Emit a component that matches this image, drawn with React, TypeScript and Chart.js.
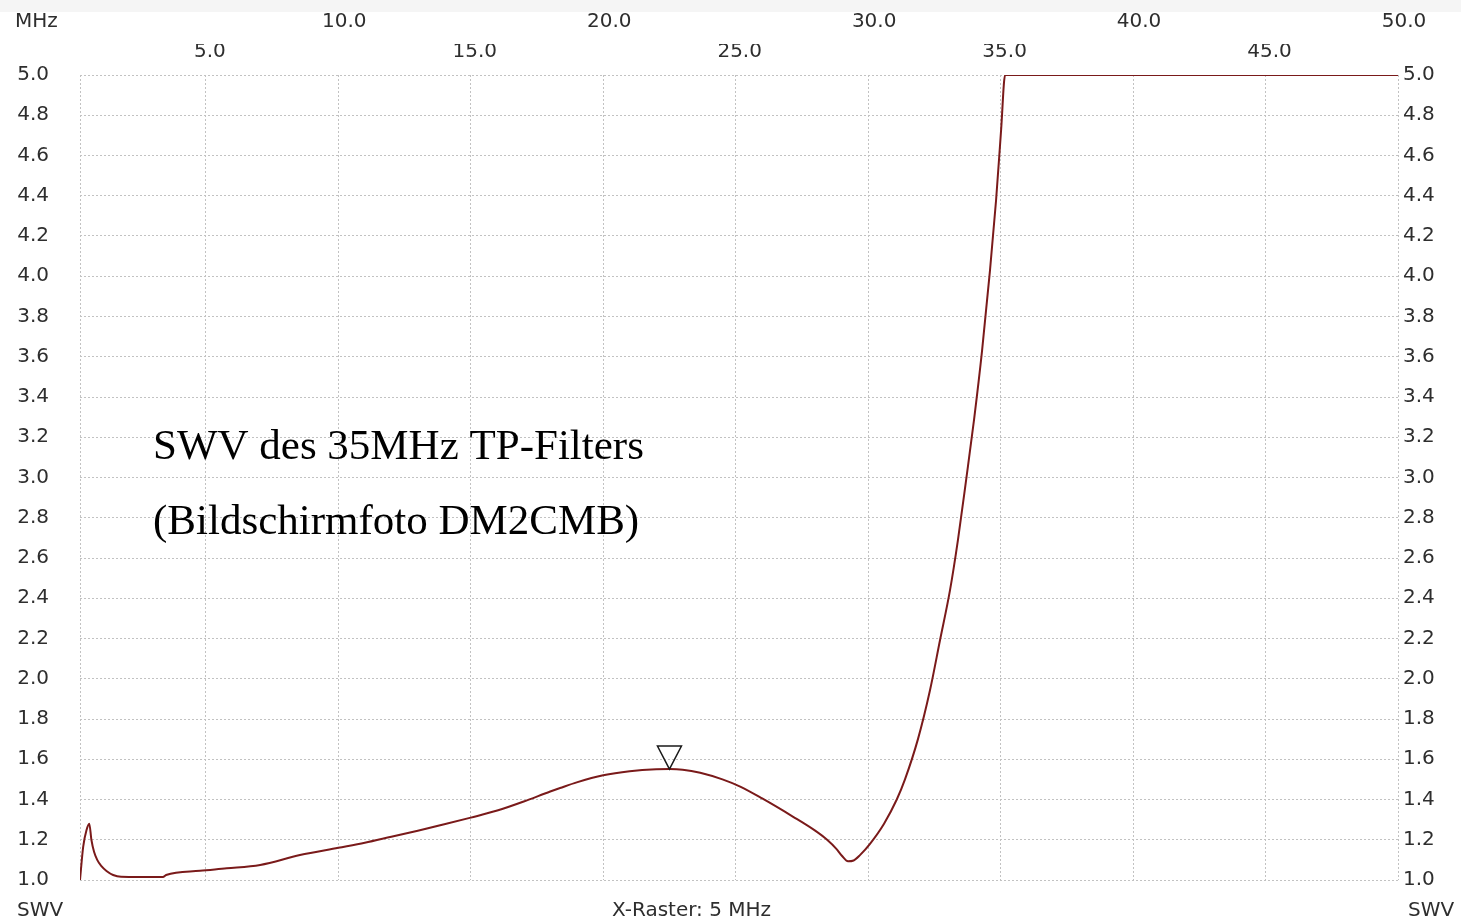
import React, { useEffect, useRef } from 'react';
import { Chart, registerables } from 'chart.js';

Chart.register(...registerables);

// ---- data ----
const freqMHz = [
  0.25, 0.37, 0.5, 0.6, 0.68, 0.78, 0.9, 1.05, 1.25, 1.5, 1.8, 2.5, 3.38, 3.5,
  4.78, 5.79, 7.05, 8.55, 10, 11, 12, 13, 14, 15, 16, 17, 18, 18.37, 19, 20,
  21, 22, 22.5, 23, 23.66, 24.5, 25.17, 26, 27.17, 28, 28.45, 28.8, 29.0,
  29.24, 29.45, 29.7, 30.07, 30.6, 31.08, 31.39, 31.88, 32.33, 32.71, 33.09,
  33.39, 33.7, 34.0, 34.3, 34.6, 34.83, 35.02, 35.17, 50,
];
const swrValues = [
  1.0, 1.165, 1.25, 1.28, 1.2, 1.14, 1.1, 1.07, 1.045, 1.025, 1.016, 1.015,
  1.015, 1.025, 1.046, 1.058, 1.075, 1.124, 1.16, 1.185, 1.215, 1.245, 1.277,
  1.31, 1.345, 1.39, 1.44, 1.457, 1.485, 1.52, 1.54, 1.55, 1.551, 1.548, 1.533,
  1.5, 1.464, 1.405, 1.314, 1.245, 1.2, 1.155, 1.122, 1.093, 1.097, 1.125,
  1.18, 1.28, 1.4, 1.5, 1.7, 1.94, 2.19, 2.44, 2.69, 2.99, 3.29, 3.63, 4.03,
  4.38, 4.73, 5.0, 5.0,
];
const outerTopTicks = [10, 20, 30, 40, 50];
const innerTopTicks = [5, 15, 25, 35, 45];
const markerFreq = [22.5];
const markerSwr = [1.551];
const xMin = 0.25;
const xMax = 50;
const yMin = 1.0;
const yMax = 5.0;
const yStep = 0.2;
const annotationLines = ['SWV des 35MHz TP-Filters', '(Bildschirmfoto DM2CMB)'];

const W = 1461;
const H = 924;
const TICK_FONT = { family: 'DejaVu Sans', size: 20 };
const TICK_COLOR = '#2e2e2e';
const GRID_COLOR = '#c2c2c2';

const near = (v: number, list: number[]) => list.some((t) => Math.abs(t - v) < 1e-6);

const textPlugin = {
  id: 'swvText',
  beforeDraw(chart: any) {
    const ctx = chart.ctx;
    ctx.save();
    ctx.fillStyle = '#ffffff';
    ctx.fillRect(0, 0, chart.width, chart.height);
    ctx.fillStyle = '#f5f5f5';
    ctx.fillRect(0, 0, chart.width, 12);
    ctx.restore();
  },
  afterDatasetsDraw(chart: any) {
    const ctx = chart.ctx;
    const xs = chart.scales.x;
    const ys = chart.scales.y;
    ctx.save();
    // marker triangle
    markerFreq.forEach((f, i) => {
      const px = xs.getPixelForValue(f);
      const py = ys.getPixelForValue(markerSwr[i]);
      ctx.beginPath();
      ctx.moveTo(px, py);
      ctx.lineTo(px - 12, py - 23);
      ctx.lineTo(px + 12, py - 23);
      ctx.closePath();
      ctx.strokeStyle = '#1a1a1a';
      ctx.lineWidth = 1.5;
      ctx.stroke();
    });
    // corner / axis texts
    ctx.font = '20px "DejaVu Sans"';
    ctx.fillStyle = TICK_COLOR;
    ctx.textBaseline = 'middle';
    ctx.textAlign = 'left';
    ctx.fillText('MHz', 15, 22);
    ctx.fillText('SWV', 17, 911);
    ctx.fillText('SWV', 1408, 911);
    ctx.fillText('X-Raster: 5 MHz', 612, 911);
    // annotation
    ctx.font = '43px "Liberation Serif"';
    ctx.fillStyle = '#000000';
    ctx.textBaseline = 'alphabetic';
    ctx.fillText(annotationLines[0], 153, 459);
    ctx.fillText(annotationLines[1], 153, 534);
    ctx.restore();
  },
};

export default function App() {
  const ref = useRef<HTMLCanvasElement | null>(null);

  useEffect(() => {
    if (!ref.current) return;
    const points = freqMHz.map((f, i) => ({ x: f, y: swrValues[i] }));
    const chart = new Chart(ref.current, {
      type: 'line',
      data: {
        datasets: [
          {
            data: points,
            borderColor: '#7a1a1a',
            borderWidth: 2,
            pointRadius: 0,
            cubicInterpolationMode: 'monotone',
            xAxisID: 'x',
            yAxisID: 'y',
          },
        ],
      },
      options: {
        animation: false,
        responsive: false,
        maintainAspectRatio: false,
        layout: { padding: 0 },
        plugins: {
          legend: { display: false },
          tooltip: { enabled: false },
          title: { display: false },
        },
        scales: {
          x: {
            type: 'linear',
            position: 'top',
            weight: 0,
            min: xMin,
            max: xMax,
            ticks: {
              stepSize: 5,
              autoSkip: false,
              maxRotation: 0,
              padding: 11,
              labelOffset: 4,
              font: TICK_FONT,
              color: TICK_COLOR,
              callback: (v: any) => (near(Number(v), innerTopTicks) ? Number(v).toFixed(1) : ''),
            },
            grid: { color: GRID_COLOR, lineWidth: 1, drawTicks: false },
            border: { display: false, dash: [2, 2] },
            afterFit: (s: any) => {
              s.height = 31;
            },
          },
          x2: {
            type: 'linear',
            position: 'top',
            weight: 10,
            min: xMin,
            max: xMax,
            ticks: {
              stepSize: 10,
              autoSkip: false,
              maxRotation: 0,
              padding: 10,
              labelOffset: 6,
              font: TICK_FONT,
              color: TICK_COLOR,
              callback: (v: any) => (near(Number(v), outerTopTicks) ? Number(v).toFixed(1) : ''),
            },
            grid: { display: false, drawOnChartArea: false, drawTicks: false },
            border: { display: false },
            afterFit: (s: any) => {
              s.height = 44;
            },
          },
          xb: {
            type: 'linear',
            position: 'bottom',
            min: xMin,
            max: xMax,
            ticks: { display: false },
            grid: { display: false, drawTicks: false },
            border: { display: false },
            afterFit: (s: any) => {
              s.height = 44;
            },
          },
          y: {
            type: 'linear',
            position: 'left',
            min: yMin,
            max: yMax,
            ticks: {
              stepSize: yStep,
              autoSkip: false,
              padding: 31,
              font: TICK_FONT,
              color: TICK_COLOR,
              callback: (v: any) => Number(v).toFixed(1),
            },
            grid: { color: GRID_COLOR, lineWidth: 1, drawTicks: false },
            border: { display: false, dash: [2, 2] },
            afterFit: (s: any) => {
              s.width = 80;
            },
          },
          y2: {
            type: 'linear',
            position: 'right',
            min: yMin,
            max: yMax,
            ticks: {
              stepSize: yStep,
              autoSkip: false,
              padding: 5,
              font: TICK_FONT,
              color: TICK_COLOR,
              callback: (v: any) => Number(v).toFixed(1),
            },
            grid: { drawOnChartArea: false, drawTicks: false },
            border: { display: false },
            afterFit: (s: any) => {
              s.width = 63;
            },
          },
        },
      } as any,
      plugins: [textPlugin],
    });
    return () => chart.destroy();
  }, []);

  return (
    <div style={{ position: 'fixed', left: 0, top: 0, width: W, height: H, background: '#fff' }}>
      <canvas ref={ref} width={W} height={H} style={{ display: 'block', width: W, height: H }} />
    </div>
  );
}
